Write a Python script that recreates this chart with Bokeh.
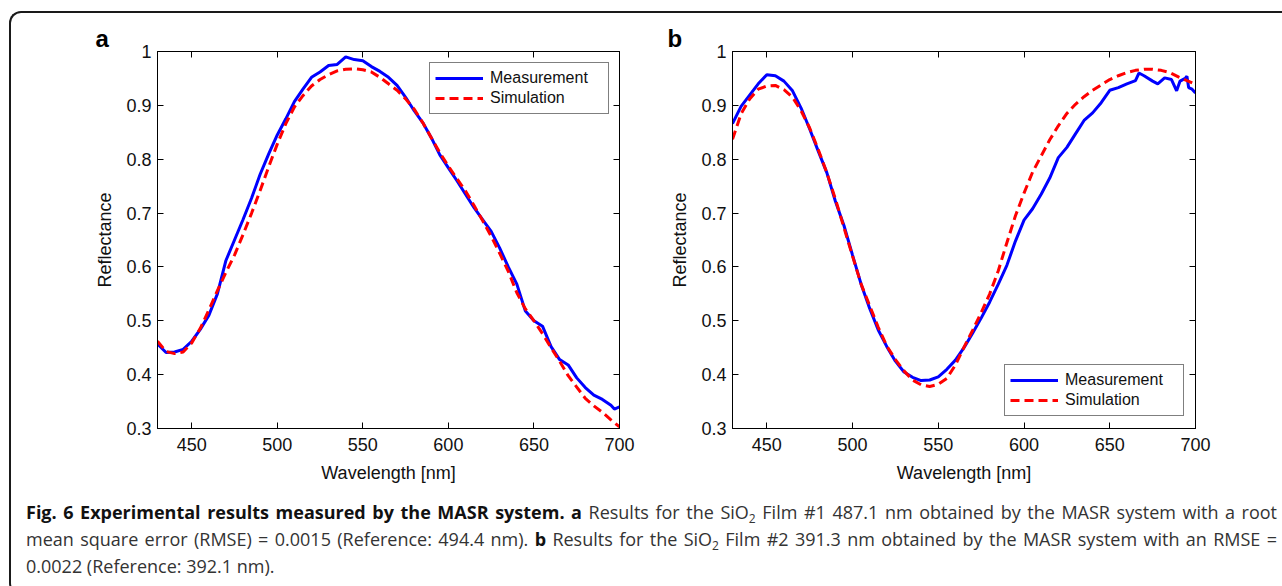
from bokeh.plotting import figure
from bokeh.models import (FixedTicker, LinearAxis, CustomJSTickFormatter, Legend, LegendItem, Div)
from bokeh.layouts import column, row
from bokeh.embed import file_html
from bokeh.resources import INLINE

# ---------------- data ----------------
wl_a = [430, 435, 440, 445, 450, 455, 460, 465, 470, 475, 480, 485, 490, 495, 500, 505, 510, 515,
        520, 525, 530, 535, 540, 545, 550, 555, 560, 565, 570, 575, 580, 585, 590, 595, 600, 605,
        610, 615, 620, 625, 630, 635, 640, 645, 650, 655, 660, 665, 670, 675, 680, 685, 690, 695,
        697, 700]
meas_a = [0.457, 0.441, 0.442, 0.447, 0.462, 0.484, 0.510, 0.550, 0.612, 0.650, 0.688, 0.728,
          0.772, 0.810, 0.845, 0.875, 0.907, 0.930, 0.952, 0.962, 0.974, 0.976, 0.990, 0.985,
          0.983, 0.972, 0.963, 0.952, 0.937, 0.915, 0.890, 0.868, 0.840, 0.808, 0.784, 0.760,
          0.735, 0.710, 0.688, 0.666, 0.635, 0.600, 0.568, 0.518, 0.500, 0.490, 0.452, 0.428,
          0.418, 0.394, 0.376, 0.362, 0.354, 0.343, 0.336, 0.340]
wl_sim_a = [430, 435, 440, 445, 450, 455, 460, 465, 470, 475, 480, 485, 490, 495, 500, 505, 510,
            515, 520, 525, 530, 535, 540, 545, 550, 555, 560, 565, 570, 575, 580, 585, 590, 595,
            600, 605, 610, 615, 620, 625, 630, 635, 640, 645, 650, 655, 660, 665, 670, 675, 680,
            685, 690, 695, 700]
sim_a = [0.462, 0.443, 0.439, 0.442, 0.459, 0.486, 0.520, 0.556, 0.590, 0.622, 0.660, 0.700,
         0.742, 0.786, 0.828, 0.866, 0.897, 0.918, 0.936, 0.948, 0.957, 0.964, 0.967, 0.968,
         0.966, 0.962, 0.952, 0.940, 0.928, 0.912, 0.893, 0.868, 0.840, 0.812, 0.787, 0.764,
         0.741, 0.714, 0.686, 0.657, 0.625, 0.592, 0.552, 0.522, 0.500, 0.476, 0.450, 0.425,
         0.398, 0.377, 0.356, 0.342, 0.330, 0.316, 0.303]

wl_b = [430, 435, 440, 445, 450, 455, 460, 465, 470, 475, 480, 485, 490, 495, 500, 505, 510, 515,
        520, 525, 530, 535, 540, 545, 550, 555, 560, 565, 570, 575, 580, 585, 590, 595, 600, 605,
        610, 615, 620, 625, 630, 635, 640, 645, 650, 655, 660, 665, 667, 670, 675, 678, 682, 686,
        689, 691, 694, 695, 696, 698, 700]
meas_b = [0.866, 0.898, 0.919, 0.940, 0.957, 0.955, 0.945, 0.927, 0.895, 0.856, 0.815, 0.775,
          0.722, 0.677, 0.622, 0.568, 0.523, 0.483, 0.452, 0.425, 0.405, 0.395, 0.389, 0.390,
          0.396, 0.410, 0.427, 0.450, 0.477, 0.505, 0.535, 0.568, 0.603, 0.648, 0.687, 0.708,
          0.735, 0.765, 0.803, 0.822, 0.847, 0.872, 0.886, 0.905, 0.928, 0.933, 0.940, 0.946,
          0.960, 0.955, 0.945, 0.940, 0.951, 0.948, 0.927, 0.945, 0.950, 0.954, 0.933, 0.930,
          0.923]
wl_sim_b = [430, 435, 440, 445, 450, 455, 460, 465, 470, 475, 480, 485, 490, 495, 500, 505, 510,
            515, 520, 525, 530, 535, 540, 545, 550, 555, 560, 565, 570, 575, 580, 585, 590, 595,
            600, 605, 610, 615, 620, 625, 630, 635, 640, 645, 650, 655, 660, 665, 670, 675, 680,
            685, 690, 695, 700]
sim_b = [0.837, 0.884, 0.912, 0.930, 0.936, 0.937, 0.929, 0.915, 0.890, 0.858, 0.818, 0.775,
         0.726, 0.673, 0.620, 0.568, 0.528, 0.488, 0.453, 0.428, 0.407, 0.390, 0.381, 0.378,
         0.382, 0.393, 0.418, 0.451, 0.482, 0.515, 0.550, 0.593, 0.645, 0.695, 0.737, 0.776,
         0.806, 0.836, 0.862, 0.885, 0.902, 0.916, 0.928, 0.938, 0.948, 0.955, 0.961, 0.965,
         0.967, 0.967, 0.965, 0.961, 0.953, 0.946, 0.939]

x_ticks = [450, 500, 550, 600, 650, 700]
y_ticks = [0.3, 0.4, 0.5, 0.6, 0.7, 0.8, 0.9, 1.0]
series_names = ["Measurement", "Simulation"]
panel_letters = ["a", "b"]
x_label = "Wavelength [nm]"
y_label = "Reflectance"

TICK_FONT = "Liberation Sans"
BLUE = "#0000ff"
RED = "#ff0000"


def make_panel(wl_m, meas, wl_s, sim, letter, border_left, width, border_right, legend_loc, letter_off):
    p = figure(width=width, height=472, x_range=(430, 700), y_range=(0.3, 1.0),
               output_backend="svg", toolbar_location=None,
               min_border_left=border_left, min_border_right=border_right,
               min_border_top=38, min_border_bottom=57)
    p.grid.visible = False
    p.outline_line_color = "black"
    p.outline_line_width = 1
    p.background_fill_color = "white"
    p.border_fill_color = None

    # panel letter as the plot title
    p.title.text = letter
    p.title.align = "left"
    p.title.offset = letter_off
    p.title.standoff = 0
    p.title.text_font = TICK_FONT
    p.title.text_font_size = "24px"
    p.title.text_font_style = "bold"
    p.title.text_color = "black"

    fmt_y = CustomJSTickFormatter(code="return tick.toFixed(1).replace(/\\.0$/, '');")
    blank = CustomJSTickFormatter(code="return '';")

    bottom_ax = p.below[0]
    left_ax = p.left[0]
    bottom_ax.ticker = FixedTicker(ticks=x_ticks)
    bottom_ax.axis_label = x_label
    left_ax.ticker = FixedTicker(ticks=y_ticks)
    left_ax.formatter = fmt_y
    left_ax.axis_label = y_label

    top = LinearAxis(ticker=FixedTicker(ticks=x_ticks), formatter=blank, major_label_standoff=0)
    right = LinearAxis(ticker=FixedTicker(ticks=y_ticks), formatter=blank, major_label_standoff=0)
    p.add_layout(top, "above")
    p.add_layout(right, "right")

    for ax in [bottom_ax, left_ax, top, right]:
        ax.axis_line_color = "black"
        ax.axis_line_width = 1
        ax.major_tick_in = 6
        ax.major_tick_out = 0
        ax.major_tick_line_color = "black"
        ax.minor_tick_line_color = None
        ax.major_label_text_font = TICK_FONT
        ax.major_label_text_font_size = "18px"
        ax.major_label_text_color = "#111111"
        ax.axis_label_text_font = TICK_FONT
        ax.axis_label_text_font_size = "18px"
        ax.axis_label_text_font_style = "normal"
        ax.axis_label_text_color = "#111111"
    bottom_ax.major_label_standoff = 9
    bottom_ax.axis_label_standoff = 9
    left_ax.major_label_standoff = 6
    left_ax.axis_label_standoff = 8

    r1 = p.line(wl_m, meas, line_color=BLUE, line_width=3)
    r2 = p.line(wl_s, sim, line_color=RED, line_width=3, line_dash="9 5")

    legend = Legend(items=[LegendItem(label=series_names[0], renderers=[r1]),
                           LegendItem(label=series_names[1], renderers=[r2])],
                    location=legend_loc, margin=0, padding=5, spacing=0,
                    glyph_width=48, glyph_height=20, label_standoff=7,
                    label_width=113, label_height=20,
                    label_text_font=TICK_FONT, label_text_font_size="16px",
                    label_text_color="#111111",
                    border_line_color="black", border_line_width=1,
                    background_fill_color="white", background_fill_alpha=1)
    p.add_layout(legend, "center")
    return p


pa = make_panel(wl_a, meas_a, wl_sim_a, sim_a, panel_letters[0], 146, 649, 41, (272, 314), -62)
pb = make_panel(wl_b, meas_b, wl_sim_b, sim_b, panel_letters[1], 72, 622, 87, (272, 12), -65)

line_style = "text-align:justify;text-align-last:justify;"
bold = "color:#111;font-weight:700"
sub = "<sub style='font-size:12px;vertical-align:-4px;line-height:0'>2</sub>"
caption_html = (
    "<div style=\"font-family:'Open Sans';font-size:18px;line-height:27px;"
    "color:#333333;padding:9px 0 0 10px;width:1261px;box-sizing:border-box;\">"
    f"<div style='{line_style}'><b style='{bold}'>Fig. 6 Experimental results measured by the MASR system. a</b> "
    f"Results for the SiO{sub} Film #1 487.1 nm obtained by the MASR system with a root</div>"
    f"<div style='{line_style}'>mean square error (RMSE) = 0.0015 (Reference: 494.4 nm). "
    f"<b style='{bold}'>b</b> Results for the SiO{sub} Film #2 391.3 nm obtained by the MASR system with an RMSE =</div>"
    "<div>0.0022 (Reference: 392.1 nm).</div>"
    "</div>"
)
cap = Div(text=caption_html, width=1271, height=98, styles={"overflow": "hidden"})

layout = column(row(pa, pb), cap,
                styles={"border-left": "2px solid #1a1a1a", "border-top": "2px solid #1a1a1a",
                        "border-bottom": "2px solid #1a1a1a",
                        "border-top-left-radius": "12px", "border-bottom-left-radius": "12px",
                        "margin-left": "9px", "margin-top": "11px", "background": "white"})

open("out.html", "w").write(file_html(layout, INLINE))
